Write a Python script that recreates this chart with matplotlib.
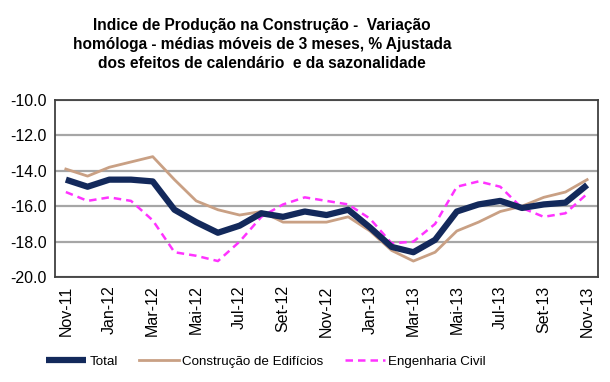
import numpy as np
import matplotlib.pyplot as plt

# data (monthly, Nov-11 .. Nov-13)
months = ['Nov-11', 'Dez-11', 'Jan-12', 'Fev-12', 'Mar-12', 'Abr-12', 'Mai-12',
          'Jun-12', 'Jul-12', 'Ago-12', 'Set-12', 'Out-12', 'Nov-12', 'Dez-12',
          'Jan-13', 'Fev-13', 'Mar-13', 'Abr-13', 'Mai-13', 'Jun-13', 'Jul-13',
          'Ago-13', 'Set-13', 'Out-13', 'Nov-13']
total = [-14.5, -14.9, -14.5, -14.5, -14.6, -16.2, -16.9, -17.5, -17.1, -16.4,
         -16.6, -16.3, -16.5, -16.2, -17.2, -18.3, -18.6, -17.9, -16.3, -15.9,
         -15.7, -16.1, -15.9, -15.8, -14.8]
edificios = [-13.9, -14.3, -13.8, -13.5, -13.2, -14.5, -15.7, -16.2, -16.5, -16.3,
             -16.9, -16.9, -16.9, -16.6, -17.4, -18.5, -19.1, -18.6, -17.4, -16.9,
             -16.3, -16.0, -15.5, -15.2, -14.5]
engenharia = [-15.2, -15.7, -15.5, -15.7, -16.8, -18.6, -18.8, -19.1, -18.0, -16.6,
              -15.9, -15.5, -15.7, -15.9, -16.7, -18.1, -18.0, -17.0, -14.9, -14.6,
              -14.9, -16.1, -16.6, -16.4, -15.3]
yticks = [-10.0, -12.0, -14.0, -16.0, -18.0, -20.0]

plt.rcParams['font.family'] = ['Liberation Sans', 'DejaVu Sans']

fig = plt.figure(figsize=(6.1, 3.82), dpi=100)
ax = fig.add_axes([55/610, 1-277/382, 543/610, 177/382])

x = np.arange(len(months))
ax.plot(x, total, color='#13295b', lw=4.5, label='Total', solid_capstyle='butt', zorder=3)
ax.plot(x, edificios, color='#c9a084', lw=2.0, label='Construção de Edifícios', zorder=2)
ax.plot(x, engenharia, color='#ff33ff', lw=1.8, ls=(0, (3, 2)), label='Engenharia Civil', zorder=2)

ax.set_xlim(-0.5, len(months) - 0.5)
ax.set_ylim(-20, -10)
ax.set_yticks(yticks)
ax.set_yticklabels(['%.1f' % v for v in yticks], fontsize=11.5)
ax.set_xticks(x[::2])
ax.set_xticklabels(months[::2], rotation=90, fontsize=11.5)
ax.tick_params(length=0, pad=6)
ax.grid(axis='y', color='#a6a6a6', lw=1.6)
ax.set_axisbelow(True)
for s in ax.spines.values():
    s.set_color('#404040')
    s.set_linewidth(1.3)

fig.text(262/610, 1-18/382,
         'Indice de Produção na Construção -  Variação\n'
         'homóloga - médias móveis de 3 meses, % Ajustada\n'
         'dos efeitos de calendário  e da sazonalidade',
         ha='center', va='top', fontsize=11.2, fontweight='bold', linespacing=1.35)

leg = fig.legend(loc='center', bbox_to_anchor=(266/610, 1-362/382), ncol=3,
                 frameon=False, fontsize=9.6, handlelength=3.0, columnspacing=1.6,
                 handletextpad=0.25)

fig.savefig('out.png', dpi=100)
